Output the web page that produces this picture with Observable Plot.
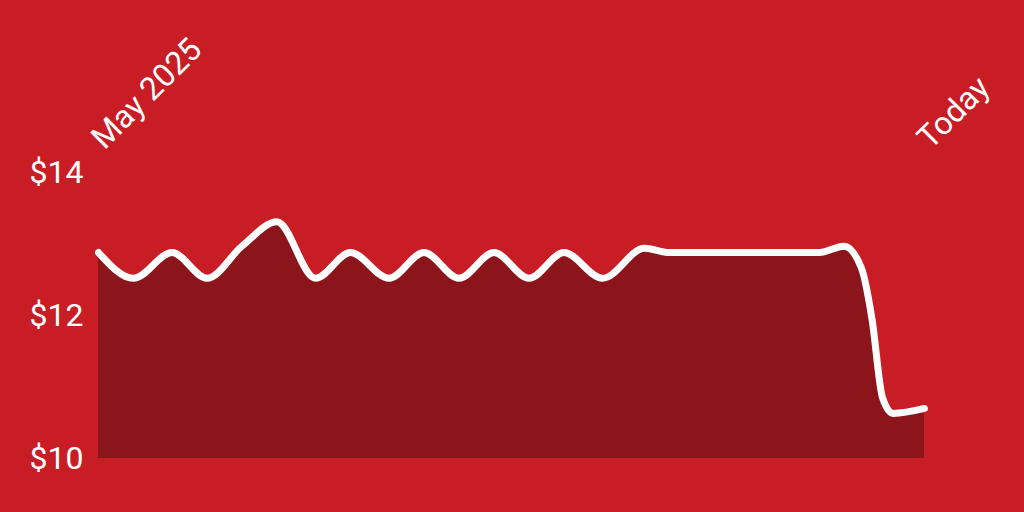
<!DOCTYPE html>
<html>
<head>
<meta charset="utf-8">
<script src="https://cdn.jsdelivr.net/npm/d3@7"></script>
<script src="https://cdn.jsdelivr.net/npm/@observablehq/plot@0.6"></script>
<style>
  html, body { margin: 0; padding: 0; background: #C91D26; }
  #chart svg { display: block; }
</style>
</head>
<body>
<div id="chart"></div>
<script>
const dates = [
  "2025-05-01","2025-05-11","2025-05-22","2025-06-01","2025-06-11","2025-06-21",
  "2025-07-02","2025-07-12","2025-07-23","2025-08-02","2025-08-12","2025-08-22",
  "2025-09-01","2025-09-11","2025-09-22","2025-10-04","2025-10-11","2025-11-23",
  "2025-11-30","2025-12-05","2025-12-08","2025-12-11","2025-12-14","2025-12-23"
];
const prices = [
  12.88, 12.52, 12.88, 12.52, 12.97, 13.31,
  12.52, 12.88, 12.52, 12.88, 12.52, 12.88,
  12.52, 12.88, 12.52, 12.94, 12.88, 12.88,
  12.97, 12.66, 11.95, 10.85, 10.63, 10.70
];
const yDomain = [10, 14];
const yTicks = [10, 12, 14];
const labelDates = ["2025-05-01", "2025-12-23"];
const labelTexts = ["May 2025", "Today"];

const data = dates.map((d, i) => ({date: new Date(d), price: prices[i]}));
const labels = labelDates.map((d, i) => ({date: new Date(d), text: labelTexts[i]}));

const chart = Plot.plot({
  width: 1024,
  height: 512,
  marginLeft: 98,
  marginRight: 100,
  marginTop: 172,
  marginBottom: 54,
  style: {background: "#C91D26", color: "white", fontFamily: "Roboto, sans-serif", fontSize: "32px"},
  x: {type: "utc", axis: null},
  y: {domain: yDomain},
  marks: [
    Plot.areaY(data, {x: "date", y1: yDomain[0], y2: "price", curve: "monotone-x", fill: "#8B151B"}),
    Plot.lineY(data, {x: "date", y: "price", curve: "monotone-x", stroke: "white", strokeWidth: 7}),
    Plot.axisY({ticks: yTicks, tickFormat: d => `$${d}`, tickSize: 0, tickPadding: 15, fontSize: 32, fill: "white", label: null}),
    Plot.text(labels, {x: "date", text: "text", frameAnchor: "top", rotate: -45, textAnchor: "start", lineAnchor: "bottom", dy: -22, dx: 6, fill: "white", fontSize: 32})
  ]
});
document.getElementById("chart").appendChild(chart);
</script>
</body>
</html>
